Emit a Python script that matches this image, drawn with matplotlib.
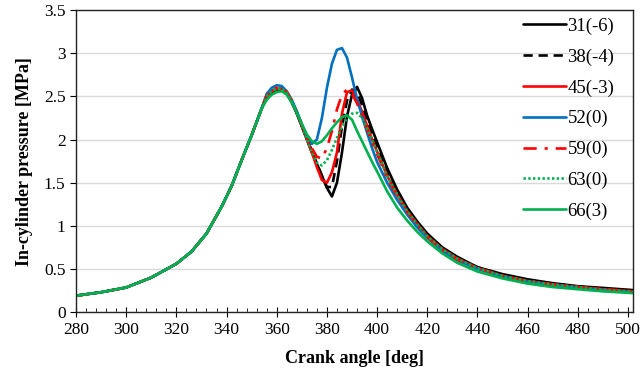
import numpy as np
import matplotlib.pyplot as plt
from matplotlib.ticker import MultipleLocator

# compression stroke, shared by all cases
ca_comp = [280, 290, 300, 310, 320, 326, 332, 338, 342, 346, 350, 354]
p_comp = [0.19, 0.23, 0.285, 0.40, 0.56, 0.70, 0.91, 1.22, 1.46, 1.76, 2.05, 2.36]

# combustion / expansion, per case
ca_comb = [356, 358, 360, 362, 364, 366, 368, 370, 372, 374, 376, 378, 380, 382,
           384, 386, 388, 390, 392, 394, 396, 398, 400, 404, 408, 412, 416, 420,
           426, 432, 440, 450, 460, 470, 480, 490, 502]

p_31 = [2.49, 2.55, 2.58, 2.58, 2.53, 2.43, 2.30, 2.15, 2.00, 1.85, 1.72, 1.58, 1.44, 1.34,
        1.50, 1.85, 2.27, 2.52, 2.61, 2.48, 2.28, 2.12, 1.97, 1.67, 1.42, 1.21, 1.05, 0.91,
        0.75, 0.64, 0.52, 0.44, 0.38, 0.335, 0.30, 0.28, 0.255]
p_38 = [2.50, 2.56, 2.59, 2.59, 2.54, 2.44, 2.31, 2.16, 2.01, 1.87, 1.72, 1.58, 1.45, 1.45,
        1.75, 2.15, 2.45, 2.58, 2.55, 2.40, 2.22, 2.06, 1.91, 1.62, 1.39, 1.19, 1.03, 0.89,
        0.74, 0.63, 0.52, 0.43, 0.37, 0.33, 0.295, 0.27, 0.245]
p_45 = [2.50, 2.56, 2.59, 2.59, 2.54, 2.44, 2.31, 2.16, 2.01, 1.85, 1.68, 1.53, 1.50, 1.62,
        1.85, 2.30, 2.55, 2.57, 2.47, 2.32, 2.16, 2.00, 1.86, 1.58, 1.36, 1.17, 1.02, 0.88,
        0.73, 0.62, 0.51, 0.42, 0.36, 0.32, 0.29, 0.265, 0.24]
p_52 = [2.53, 2.60, 2.63, 2.62, 2.56, 2.46, 2.33, 2.18, 2.04, 1.95, 2.00, 2.25, 2.60, 2.88,
        3.04, 3.06, 2.95, 2.72, 2.47, 2.27, 2.08, 1.90, 1.74, 1.50, 1.30, 1.13, 0.98, 0.86,
        0.71, 0.60, 0.50, 0.41, 0.35, 0.31, 0.28, 0.255, 0.23]
p_59 = [2.51, 2.57, 2.60, 2.60, 2.55, 2.45, 2.32, 2.17, 2.03, 1.90, 1.80, 1.78, 1.90, 2.10,
        2.35, 2.52, 2.58, 2.53, 2.42, 2.28, 2.12, 1.97, 1.83, 1.56, 1.34, 1.16, 1.01, 0.87,
        0.72, 0.61, 0.51, 0.42, 0.36, 0.32, 0.29, 0.265, 0.24]
p_63 = [2.50, 2.56, 2.59, 2.59, 2.54, 2.44, 2.31, 2.16, 2.00, 1.85, 1.73, 1.70, 1.76, 1.88,
        2.02, 2.15, 2.25, 2.30, 2.31, 2.25, 2.13, 2.00, 1.86, 1.58, 1.36, 1.17, 1.02, 0.88,
        0.73, 0.62, 0.51, 0.42, 0.36, 0.32, 0.29, 0.26, 0.235]
p_66 = [2.46, 2.52, 2.55, 2.56, 2.52, 2.43, 2.31, 2.18, 2.06, 1.98, 1.95, 1.98, 2.05, 2.13,
        2.20, 2.26, 2.28, 2.23, 2.10, 1.98, 1.86, 1.74, 1.63, 1.40, 1.21, 1.06, 0.93, 0.82,
        0.68, 0.57, 0.47, 0.39, 0.33, 0.29, 0.265, 0.24, 0.22]

labels = ["31(-6)", "38(-4)", "45(-3)", "52(0)", "59(0)", "63(0)", "66(3)"]
series = [p_31, p_38, p_45, p_52, p_59, p_63, p_66]
colors = ["#000000", "#000000", "#FF0000", "#0070C0", "#FF0000", "#00B050", "#00B050"]
styles = ["-", (0, (3.5, 2.2)), "-", "-", (0, (5, 3, 1.2, 3)), (0, (0.9, 0.9)), "-"]

plt.rcParams['font.family'] = ['Liberation Serif', 'DejaVu Serif']

fig = plt.figure(figsize=(6.44, 3.76), dpi=100)
ax = fig.add_axes([0.118, 0.170, 0.865, 0.803])

ca = np.array(ca_comp + ca_comb)
for p, lab, c, ls in zip(series, labels, colors, styles):
    ax.plot(ca, np.array(p_comp + p), color=c, ls=ls, lw=1.9, label=lab,
            solid_joinstyle='round', solid_capstyle='round')

ax.set_xlim(280, 502)
ax.set_ylim(0, 3.5)
ax.xaxis.set_major_locator(MultipleLocator(20))
ax.xaxis.set_minor_locator(MultipleLocator(4))
ax.set_yticks(np.arange(0, 3.51, 0.5))
ax.set_yticklabels(["0", "0.5", "1", "1.5", "2", "2.5", "3", "3.5"])

ax.grid(axis='y', color='#D9D9D9', lw=1)
ax.set_axisbelow(True)
for s in ax.spines.values():
    s.set_color('#222222')
    s.set_linewidth(1)

ax.tick_params(axis='x', which='major', direction='inout', length=7, labelsize=12.5, pad=4)
ax.tick_params(axis='x', which='minor', direction='in', length=3)
ax.tick_params(axis='y', which='major', direction='out', length=4, labelsize=12.5)

ax.set_xlabel("Crank angle [deg]", fontsize=13, fontweight='bold', labelpad=8)
ax.set_ylabel("In-cylinder pressure [MPa]", fontsize=13, fontweight='bold', labelpad=8)

ax.legend(loc='upper right', bbox_to_anchor=(0.98, 1.0), frameon=False, fontsize=13.5,
          handlelength=2.3, handletextpad=0.1, labelspacing=0.72, borderaxespad=0.2,
          borderpad=0.2)

fig.savefig("out.png", dpi=100)
